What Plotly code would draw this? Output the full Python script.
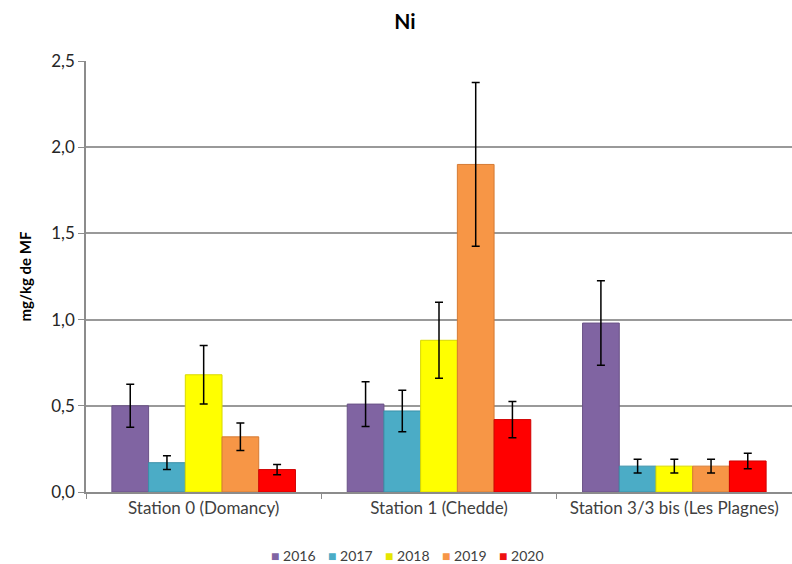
import plotly.graph_objects as go

categories = ["Station 0 (Domancy)", "Station 1 (Chedde)", "Station 3/3 bis (Les Plagnes)"]
years = ["2016", "2017", "2018", "2019", "2020"]
values = {
    "2016": [0.50, 0.51, 0.98],
    "2017": [0.17, 0.47, 0.15],
    "2018": [0.68, 0.88, 0.15],
    "2019": [0.32, 1.90, 0.15],
    "2020": [0.13, 0.42, 0.18],
}
errors = {
    "2016": [0.125, 0.13, 0.245],
    "2017": [0.04, 0.12, 0.04],
    "2018": [0.17, 0.22, 0.04],
    "2019": [0.08, 0.475, 0.04],
    "2020": [0.03, 0.105, 0.045],
}
colors = {
    "2016": "#8064A2",
    "2017": "#4BACC6",
    "2018": "#FFFF00",
    "2019": "#F79646",
    "2020": "#FF0000",
}
outlines = {
    "2016": "#6A5287",
    "2017": "#3A90A8",
    "2018": "#D9D900",
    "2019": "#D57B34",
    "2020": "#D00000",
}
legend_symbol_colors = {
    "2016": "#8064A2",
    "2017": "#4BACC6",
    "2018": "#E6E600",
    "2019": "#F79646",
    "2020": "#EE1111",
}

W, H = 792, 564
ML, MR, MT, MB = 86, 0, 61, 72
PW = W - ML - MR
PH = H - MT - MB

fig = go.Figure()
for y in years:
    fig.add_trace(go.Bar(
        name=y, x=categories, y=values[y],
        marker=dict(color=colors[y], line=dict(color=outlines[y], width=1)),
        error_y=dict(type="data", array=errors[y], visible=True,
                     color="black", thickness=1.5, width=4),
        showlegend=False,
    ))

font = "Lato, 'Open Sans', sans-serif"

# compact Excel-like legend built from the series names and colours
leg_start_px, leg_step_px, leg_y_px = 269, 57, 555
annotations = []
for i, y in enumerate(years):
    px = leg_start_px + i * leg_step_px
    annotations.append(dict(
        x=(px - ML) / PW, xref="paper", xanchor="left",
        y=(H - MB - leg_y_px) / PH, yref="paper", yanchor="middle",
        text=f"<span style='color:{legend_symbol_colors[y]}'>■</span> {y}",
        showarrow=False, font=dict(size=14, color="#404040", family=font),
    ))

fig.update_layout(
    width=W, height=H,
    margin=dict(l=ML, r=MR, t=MT, b=MB, autoexpand=False),
    paper_bgcolor="white", plot_bgcolor="white",
    separators=", ",
    barmode="group", bargap=0.22, bargroupgap=0,
    font=dict(family=font, color="#404040", size=16),
    title=dict(text="<b>Ni</b>", x=(405 - ML) / PW, xanchor="center", xref="paper",
               y=1 - 22 / H, yref="container", yanchor="middle",
               font=dict(size=21, color="black", family=font)),
    showlegend=False,
    annotations=annotations,
    xaxis=dict(showline=True, linecolor="#8c8c8c", linewidth=1.5,
               ticks="outside", tickcolor="#8c8c8c", ticklen=5,
               tickson="boundaries", showgrid=False, automargin=False,
               tickfont=dict(size=17, color="#404040")),
    yaxis=dict(range=[0, 2.5], dtick=0.5, tickformat=".1f",
               showline=True, linecolor="#8c8c8c", linewidth=1.5,
               ticks="outside", tickcolor="#8c8c8c", ticklen=6,
               showgrid=True, gridcolor="#999999", gridwidth=1.5,
               zeroline=False, automargin=False,
               tickfont=dict(size=17, color="#262626"),
               title=dict(text="<b>mg/kg de MF</b>", font=dict(size=15, color="black"), standoff=16)),
)

fig.write_html(
    "out.html",
    config={"displayModeBar": False},
    post_script="document.body.style.margin='0';document.body.style.overflow='hidden';",
)
